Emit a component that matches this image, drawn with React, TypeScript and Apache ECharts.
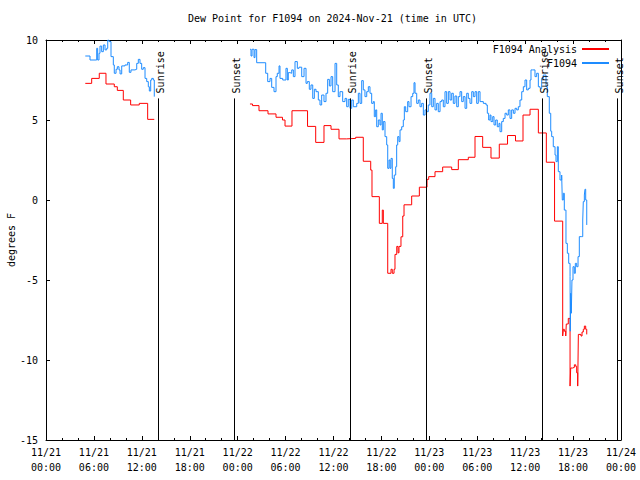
import React, { useEffect, useRef } from "react";
import * as echarts from "echarts";

const FONT = '"DejaVu Sans Mono", "Liberation Mono", monospace';
const TITLE = "Dew Point for F1094 on 2024-Nov-21 (time in UTC)";
const Y_NAME = "degrees F";
const START_UTC = Date.UTC(2024, 10, 21, 0, 0);
const X_MIN = 0;
const X_MAX = 72;
const X_STEP = 6;
const Y_MIN = -15;
const Y_MAX = 10;
const Y_STEP = 5;

// hours since 2024-11-21 00:00 UTC
const analysisTimes1 = [4.92, 5.72, 6.67, 7.51, 8.55, 8.93, 9.68, 10.6, 11.68, 12.73, 13.56];
const analysisValues1 = [7.29, 7.6, 7.92, 7.25, 7.08, 6.85, 6.25, 5.94, 6.04, 5.04, 5.04];

const analysisTimes2 = [
  25.54, 25.86, 26.67, 27.8, 28.8, 29.61, 29.93, 30.8, 32.75, 33.77, 34.81, 35.69, 36.69, 37.65, 38.78,
  39.73, 40.66, 40.82, 41.74, 42.11, 42.24, 42.79, 43.2, 43.36, 43.58, 43.7, 43.92, 44.08, 44.2, 44.45,
  44.67, 44.83, 45.79, 46.75, 47.71, 47.92, 48.71, 49.67, 50.8, 51.63, 52.88, 53.72, 54.68, 55.72, 56.76,
  57.79, 58.79, 59.73, 60.61, 61.65, 62.65, 63.68, 64.7, 64.78, 64.9, 65.08, 65.15, 65.4, 65.62, 65.7,
  65.95, 66.16, 66.33, 66.45, 66.58, 66.66, 66.99, 67.12, 67.28, 67.41, 67.58, 67.71,
];
const analysisValues2 = [
  6.0, 5.9, 5.58, 5.38, 5.17, 5.0, 4.62, 5.58, 4.6, 3.6, 4.65, 4.42, 3.82, 3.85, 3.92,
  2.42, 1.87, 0.21, -1.46, -0.63, -1.46, -4.58, -4.33, -4.58, -4.33, -3.4, -2.9, -3.3, -2.9, -2.3,
  -1.0, -0.3, 0.25, 0.8, 1.29, 1.46, 1.77, 2.06, 1.9, 2.52, 2.67, 3.97, 3.29, 2.62, 3.49,
  4.03, 3.69, 5.31, 5.67, 4.19, 2.36, -1.32, -8.5, -8.08, -8.2, -8.5, -7.75, -7.4, -11.63, -10.5,
  -10.46, -10.3, -10.4, -10.8, -11.63, -8.4, -8.5, -8.25, -8.08, -7.88, -8.08, -8.4,
];

const obsTimes1 = [
  4.92, 5.51, 6.35, 6.47, 6.64, 6.76, 6.97, 7.18, 7.39, 7.6, 7.73, 7.89, 8.14, 8.43, 8.55, 8.77, 8.93,
  9.14, 9.27, 9.48, 9.89, 10.23, 10.43, 10.64, 11.14, 11.36, 11.56, 11.77, 11.98, 12.18, 12.4, 12.61,
  12.81, 12.94, 13.11, 13.24, 13.44, 13.56,
];
const obsValues1 = [
  9.0, 8.75, 9.48, 8.75, 9.17, 9.62, 9.27, 9.69, 9.38, 9.48, 10.0, 9.9, 8.96, 8.44, 7.92, 8.17, 8.33,
  8.13, 7.88, 8.38, 8.44, 8.6, 7.98, 8.13, 8.17, 8.54, 8.79, 8.54, 8.17, 8.27, 7.6, 7.4,
  7.08, 6.81, 7.5, 7.6, 7.5, 6.46,
];

const obsTimes2 = [
  25.55, 25.67, 25.8, 26.05, 26.17, 26.38, 27.51, 27.76, 28.05, 28.26, 28.55, 28.8, 28.96, 29.18, 29.3,
  29.64, 30.05, 30.22, 30.34, 30.55, 30.77, 30.97, 31.18, 31.47, 31.68, 32.02, 32.31, 32.56, 32.72, 32.97,
  33.18, 33.4, 33.6, 33.81, 34.1, 34.31, 34.52, 34.81, 35.06, 35.27, 35.48, 35.69, 35.9, 36.19, 36.4,
  36.6, 36.81, 37.15, 37.44, 37.65, 37.85, 38.07, 38.28, 38.48, 38.91, 39.11, 39.32, 39.53, 39.73, 39.94,
  40.16, 40.36, 40.57, 40.78, 40.98, 41.11, 41.28, 41.41, 41.61, 41.82, 41.95, 42.11, 42.24, 42.45, 42.66,
  42.79, 42.95, 43.08, 43.2, 43.36, 43.49, 43.61, 43.79, 43.91, 44.04, 44.2, 44.33, 44.54, 44.74, 44.87,
  45.04, 45.29, 45.45, 45.71, 45.92, 46.08, 46.21, 46.42, 46.62, 46.83, 47.04, 47.25, 47.46, 47.67, 47.87,
  48.08, 48.3, 48.5, 48.71, 48.92, 49.12, 49.34, 49.55, 49.75, 49.96, 50.17, 50.38, 50.59, 50.8, 51.0,
  51.21, 51.43, 51.63, 51.84, 52.05, 52.25, 52.47, 52.68, 52.88, 53.09, 53.31, 53.51, 53.72, 53.93, 54.13,
  54.35, 54.76, 55.1, 55.26, 55.43, 55.6, 55.72, 55.94, 56.1, 56.31, 56.51, 56.72, 56.85, 57.06, 57.26,
  57.48, 57.69, 57.89, 58.1, 58.31, 58.52, 58.73, 58.94, 59.14, 59.35, 59.57, 59.77, 59.98, 60.19, 60.39,
  60.61, 60.73, 60.94, 61.23, 61.44, 61.65, 61.86, 62.07, 62.27, 62.61, 62.77, 63.02, 63.2, 63.32, 63.52,
  63.74, 63.86, 64.03, 64.15, 64.36, 64.57, 64.65, 64.78, 64.9, 65.11, 65.28, 65.45, 65.62, 65.65, 65.7,
  65.78, 65.86, 65.99, 66.15, 66.28, 66.45, 66.62, 66.78, 67.08, 67.21, 67.28, 67.41, 67.49, 67.58, 67.71,
];
const obsValues2 = [
  9.42, 9.0, 9.42, 8.9, 9.4, 8.58, 7.92, 7.4, 7.6, 7.04, 6.77, 7.71, 7.92, 8.38, 7.6,
  7.5, 8.23, 7.5, 7.96, 7.92, 8.13, 7.71, 8.65, 8.23, 8.3, 7.71, 8.23, 7.29, 7.4, 6.92,
  7.19, 6.35, 6.92, 6.77, 6.25, 5.94, 6.56, 6.15, 6.67, 7.54, 7.13, 7.71, 6.77, 8.54, 7.19,
  6.46, 6.77, 6.15, 6.35, 5.83, 6.29, 5.73, 6.25, 5.83, 6.04, 6.67, 6.04, 7.46, 6.88, 6.46,
  6.77, 7.08, 6.67, 6.04, 6.15, 5.21, 5.63, 4.58, 5.0, 4.69, 5.42, 4.38, 4.9, 3.96, 3.44,
  1.98, 2.5, 1.98, 2.6, 1.35, 0.73, 1.56, 2.08, 3.44, 3.96, 3.65, 4.38, 4.58, 5.0, 5.83,
  5.52, 6.15, 5.83, 6.46, 6.67, 7.33, 6.67, 6.04, 6.25, 5.83, 6.04, 5.31, 5.63, 5.52, 5.94,
  6.67, 5.83, 6.35, 5.63, 6.04, 5.52, 6.15, 6.25, 5.83, 6.77, 6.04, 6.77, 6.25, 6.67, 6.04,
  6.5, 5.83, 6.46, 6.77, 6.15, 6.46, 5.73, 6.67, 6.35, 6.04, 6.77, 6.46, 6.77, 6.04, 6.77,
  6.15, 6.04, 5.94, 5.42, 5.0, 5.31, 4.9, 5.21, 4.69, 5.0, 4.58, 4.79, 4.27, 4.9, 5.1,
  5.42, 5.31, 5.63, 5.1, 5.63, 5.42, 5.73, 5.63, 5.83, 6.25, 6.77, 7.08, 7.5, 6.88, 6.98,
  7.5, 8.13, 8.13, 7.71, 7.92, 7.08, 6.98, 7.6, 7.81, 7.08, 6.46, 5.42, 4.3, 3.96, 3.33,
  2.81, 2.4, 3.33, 1.77, 1.25, 1.56, 0.0, 0.42, -0.63, -2.71, -3.33, -3.96, -4.79, -8.2, -5.83,
  -7.08, -5.0, -4.17, -4.58, -3.96, -4.17, -3.54, -2.29, -2.29, -1.25, -0.1, 0.31, 0.67, 0.0, -1.56,
];

const sunTimes = [14.06, 23.58, 38.1, 47.6, 62.15, 71.54];
const sunLabels = ["Sunrise", "Sunset", "Sunrise", "Sunset", "Sunrise", "Sunset"];
const SUN_LINE_TOP = 6.35;

const pair = (ts: number[], vs: number[]) => ts.map((t, i) => [t, vs[i]]);
// break the line right after a segment's last sample
const joinSegments = (a: number[][], b: number[][]) => [...a, [a[a.length - 1][0], "-"], ...b];

const pad = (n: number) => (n < 10 ? "0" + n : "" + n);
const fmtTime = (v: number) => {
  const d = new Date(START_UTC + v * 3600 * 1000);
  return `${pad(d.getUTCMonth() + 1)}/${pad(d.getUTCDate())}\n${pad(d.getUTCHours())}:${pad(d.getUTCMinutes())}`;
};

export default function App() {
  const ref = useRef<HTMLDivElement>(null);
  useEffect(() => {
    if (!ref.current) return;
    const chart = echarts.init(ref.current, undefined, { renderer: "svg" });
    const axisLine = { show: true, onZero: false, lineStyle: { color: "#000", width: 1 } };
    const xCommon = {
      type: "value" as const,
      min: X_MIN,
      max: X_MAX,
      interval: X_STEP,
      splitLine: { show: false },
      axisLine,
      axisTick: { show: true, inside: true, length: 4, lineStyle: { color: "#000" } },
      minorTick: { show: true, splitNumber: 3, length: 2, lineStyle: { color: "#000" } },
    };
    const yCommon = {
      type: "value" as const,
      min: Y_MIN,
      max: Y_MAX,
      interval: Y_STEP,
      splitLine: { show: false },
      axisLine,
      axisTick: { show: true, inside: true, length: 4, lineStyle: { color: "#000" } },
    };
    const analysisData: any[] = joinSegments(pair(analysisTimes1, analysisValues1), pair(analysisTimes2, analysisValues2));
    const obsData: any[] = joinSegments(pair(obsTimes1, obsValues1), pair(obsTimes2, obsValues2));

    chart.setOption({
      animation: false,
      backgroundColor: "#fff",
      textStyle: { fontFamily: FONT },
      title: {
        text: TITLE,
        left: 188,
        top: 13,
        padding: 0,
        textStyle: { fontFamily: FONT, fontSize: 10, fontWeight: "normal", color: "#000" },
      },
      legend: {
        orient: "vertical",
        right: 31,
        top: 42,
        padding: 0,
        itemGap: 0,
        align: "right",
        icon: "rect",
        itemWidth: 27,
        itemHeight: 2,
        textStyle: { fontFamily: FONT, fontSize: 10, color: "#000", lineHeight: 14 },
        data: ["F1094 Analysis", "F1094"],
      },
      grid: { left: 46, right: 19, top: 40, bottom: 40, containLabel: false, outerBoundsMode: "none" },
      xAxis: [
        {
          ...xCommon,
          position: "bottom",
          axisLabel: {
            show: true,
            margin: 5,
            fontFamily: FONT,
            fontSize: 10,
            lineHeight: 15,
            color: "#000",
            formatter: fmtTime,
          },
        },
        { ...xCommon, position: "top", axisLabel: { show: false } },
      ],
      yAxis: [
        {
          ...yCommon,
          position: "left",
          name: Y_NAME,
          nameLocation: "middle",
          nameGap: 30,
          nameMoveOverlap: false,
          nameTextStyle: { fontFamily: FONT, fontSize: 10, color: "#000" },
          axisLabel: { show: true, margin: 8, fontFamily: FONT, fontSize: 10, color: "#000" },
        },
        { ...yCommon, position: "right", axisLabel: { show: false } },
      ],
      series: [
        {
          name: "F1094 Analysis",
          type: "line",
          step: "end",
          data: analysisData,
          showSymbol: false,
          symbol: "none",
          color: "#ff0000",
          lineStyle: { color: "#ff0000", width: 1 },
          connectNulls: false,
          z: 2,
        },
        {
          name: "F1094",
          type: "line",
          step: "end",
          data: obsData,
          showSymbol: false,
          symbol: "none",
          color: "#1e8cff",
          lineStyle: { color: "#1e8cff", width: 1 },
          connectNulls: false,
          z: 3,
          markLine: {
            silent: true,
            symbol: ["none", "none"],
            label: { show: false },
            lineStyle: { color: "#000", width: 1, type: "solid" },
            data: sunTimes.map((t) => [{ coord: [t, Y_MIN] }, { coord: [t, SUN_LINE_TOP] }]),
          },
        },
      ],
    });

    const texts = sunTimes.map((t, i) => {
      const p = chart.convertToPixel({ gridIndex: 0 }, [t, SUN_LINE_TOP]) as number[];
      return {
        type: "text",
        x: p[0] + 2,
        y: p[1] - 5,
        rotation: Math.PI / 2,
        silent: true,
        style: {
          text: sunLabels[i],
          fontFamily: FONT,
          fontSize: 10,
          fill: "#000",
          align: "left",
          verticalAlign: "middle",
          textAlign: "left",
          textVerticalAlign: "middle",
        },
        z: 10,
      };
    });
    chart.setOption({ graphic: texts });

    return () => chart.dispose();
  }, []);
  return <div ref={ref} style={{ position: "absolute", left: 0, top: 0, width: 640, height: 480 }} />;
}
